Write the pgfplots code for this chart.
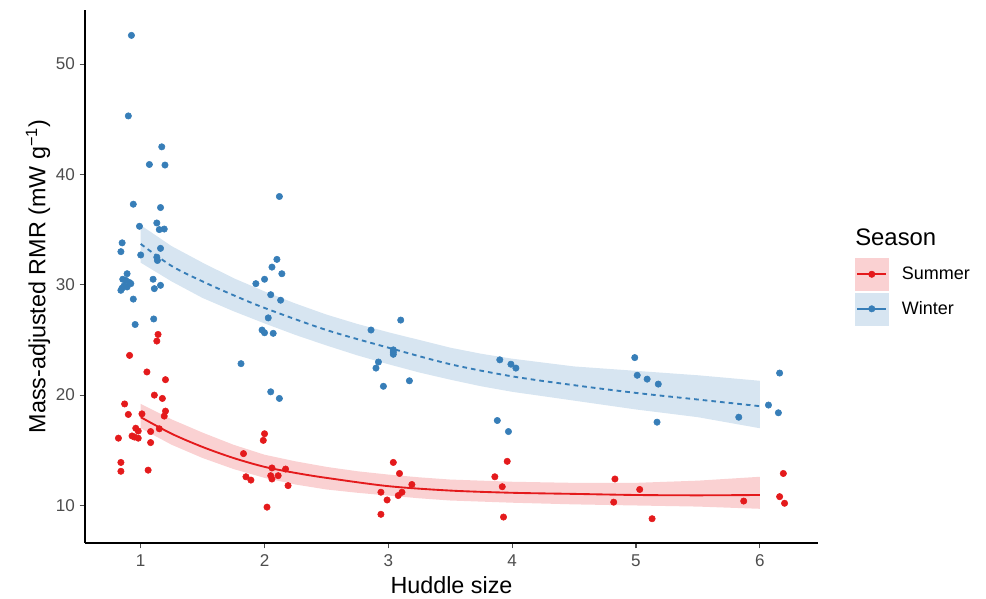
\documentclass[border=0pt]{standalone}
\usepackage{fontspec}
\setmainfont{Liberation Sans}
\usepackage{pgfplots}
\pgfplotsset{compat=1.18}
\definecolor{cred}{HTML}{E41A1C}
\definecolor{cblue}{HTML}{377EB8}
\definecolor{fred}{HTML}{FAD1D2}
\definecolor{fblue}{HTML}{D7E5F1}
\definecolor{tickgray}{HTML}{4D4D4D}
\begin{document}
\begin{tikzpicture}
\begin{axis}[
  scale only axis, width=549.75pt, height=399.75pt,
  xmin=0.55, xmax=6.47, ymin=6.6, ymax=54.9,
  axis x line*=bottom, axis y line*=left,
  axis line style={line width=0.9pt, black},
  xtick={1,2,3,4,5,6}, ytick={10,20,30,40,50},
  tick style={line width=0.8pt, color=tickgray}, tick align=outside, major tick length=4pt,
  tick label style={font=\fontsize{12.8}{14}\selectfont, text=tickgray},
  xticklabel style={yshift=-1pt},
  /pgf/number format/assume math mode=true,
  xlabel={Huddle size}, ylabel={Mass-adjusted RMR (mW g\textsuperscript{−1})},
  label style={font=\fontsize{17.5}{20}\selectfont},
  xlabel style={at={(axis description cs:0.5,-0.0788)}, anchor=center},
  ylabel style={at={(axis description cs:-0.0641,0.5)}, anchor=center},
  legend style={at={(axis description cs:1.0505,0.5347)}, anchor=north west, draw=none, fill=none,
    inner sep=0pt, outer sep=0pt, row sep=1.5pt, font=\fontsize{13.5}{15}\selectfont,
    cells={anchor=west}, /tikz/every odd column/.append style={column sep=8pt}},
]
% ribbons
\addplot[fill=fblue, draw=none, forget plot] coordinates {
(1.0,35.4)(1.25,33.5)(1.5,32.0)(1.75,30.6)(2.0,29.4)(2.25,28.3)(2.5,27.3)(2.75,26.45)(3.0,25.7)(3.25,25.0)(3.5,24.3)(3.75,23.75)(4.0,23.3)(4.5,22.6)(5.0,22.2)(5.5,21.8)(6.0,21.3)
(6.0,17.0)(5.5,18.0)(5.0,18.7)(4.5,19.5)(4.0,20.3)(3.75,20.8)(3.5,21.4)(3.25,22.05)(3.0,22.8)(2.75,23.6)(2.5,24.5)(2.25,25.45)(2.0,26.5)(1.75,27.6)(1.5,28.8)(1.25,30.3)(1.0,32.0)} -- cycle;
\addplot[fill=fred, draw=none, forget plot] coordinates {
(1.0,19.2)(1.25,17.8)(1.5,16.6)(1.75,15.5)(2.0,14.6)(2.25,14.0)(2.5,13.5)(2.75,13.1)(3.0,12.8)(3.25,12.55)(3.5,12.35)(4.0,12.15)(4.5,12.05)(5.0,12.05)(5.5,12.25)(6.0,12.6)
(6.0,9.7)(5.5,9.9)(5.0,10.0)(4.5,10.1)(4.0,10.25)(3.5,10.45)(3.25,10.65)(3.0,10.9)(2.75,11.15)(2.5,11.45)(2.25,11.9)(2.0,12.5)(1.75,13.3)(1.5,14.3)(1.25,15.5)(1.0,17.0)} -- cycle;
% fit lines
\addplot[cblue, line width=1.4pt, dash pattern=on 3.5pt off 3pt, smooth, forget plot] coordinates {
(1.0,33.7)(1.25,31.7)(1.5,30.3)(1.75,29.05)(2.0,27.9)(2.5,25.9)(3.0,24.3)(3.5,22.8)(4.0,21.7)(4.5,20.9)(5.0,20.2)(5.5,19.6)(6.0,19.0)};
\addplot[cred, line width=1.4pt, smooth, forget plot] coordinates {
(1.0,18.0)(1.25,16.5)(1.5,15.3)(1.75,14.3)(2.0,13.5)(2.25,12.95)(2.5,12.5)(3.0,11.75)(3.5,11.35)(4.0,11.15)(4.5,11.05)(5.0,10.95)(5.5,10.92)(6.0,10.95)};
% points
\addplot[only marks, mark=*, mark size=2.4pt, color=cblue, forget plot] coordinates {
(0.925,52.6)(0.90,45.3)(1.17,42.5)(1.07,40.9)(1.196,40.85)(0.94,37.3)(1.16,37.0)(0.99,35.3)(1.13,35.6)(1.15,35.0)
(1.19,35.05)(0.85,33.8)(0.84,33.0)(1.16,33.3)(1.00,32.7)(1.13,32.5)(1.135,32.2)(0.89,31.0)(0.855,30.5)(0.88,30.4)
(0.91,30.2)(0.92,30.1)(0.865,29.9)(0.89,29.8)(0.84,29.5)(0.85,29.7)(1.10,30.5)(1.11,29.65)(1.16,29.95)(0.94,28.7)
(1.105,26.9)(0.955,26.4)(1.81,22.85)(2.05,20.3)(2.12,19.7)(2.12,38.0)(2.10,32.3)(2.06,31.6)(2.14,31.0)(2.00,30.5)
(1.93,30.1)(2.05,29.1)(2.13,28.6)(2.03,27.0)(1.98,25.9)(2.00,25.65)(2.07,25.6)(2.86,25.9)(3.10,26.8)(3.04,24.1)
(3.04,23.9)(3.04,23.7)(2.92,23.0)(2.90,22.45)(2.96,20.8)(3.17,21.3)(3.90,23.2)(3.99,22.8)(4.03,22.45)(3.88,17.7)
(3.97,16.7)(4.99,23.4)(5.01,21.8)(5.09,21.45)(5.18,21.0)(5.17,17.55)(5.83,18.0)(6.07,19.1)(6.16,22.0)(6.15,18.4)};
\addplot[only marks, mark=*, mark size=2.4pt, color=cred, forget plot] coordinates {
(1.14,25.5)(1.13,24.9)(0.91,23.6)(1.05,22.1)(1.20,21.4)(1.11,20.0)(1.175,19.7)(0.87,19.2)(0.90,18.25)(1.01,18.3)
(1.20,18.55)(1.19,18.1)(0.96,17.0)(0.98,16.75)(1.15,16.95)(1.08,16.7)(0.93,16.3)(0.95,16.2)(0.98,16.1)(0.82,16.1)
(1.08,15.7)(0.84,13.9)(0.84,13.1)(1.06,13.2)(2.00,16.5)(1.99,15.9)(1.83,14.7)(2.06,13.4)(2.17,13.3)(2.05,12.7)
(2.06,12.4)(2.11,12.7)(1.85,12.6)(1.89,12.3)(2.19,11.8)(2.02,9.85)(3.04,13.9)(3.09,12.9)(3.19,11.9)(2.94,11.2)
(3.11,11.2)(3.08,10.9)(2.99,10.5)(2.94,9.2)(3.96,14.0)(3.86,12.6)(3.92,11.7)(3.93,8.95)(4.83,12.4)(5.03,11.45)
(4.82,10.3)(5.13,8.8)(5.87,10.4)(6.19,12.9)(6.16,10.8)(6.20,10.2)};
% legend
\addlegendimage{legend image code/.code={\fill[fred] (0pt,-12pt) rectangle (24.75pt,12pt);
  \draw[cred, line width=1.4pt] (1.5pt,0pt) -- (23.25pt,0pt); \fill[cred] (12.375pt,0pt) circle (2.4pt);}}
\addlegendentry{Summer}
\addlegendimage{legend image code/.code={\fill[fblue] (0pt,-12pt) rectangle (24.75pt,12pt);
  \draw[cblue, line width=1.4pt] (1.5pt,0pt) -- (23.25pt,0pt); \fill[cblue] (12.375pt,0pt) circle (2.4pt);}}
\addlegendentry{Winter}
\coordinate (SW) at (rel axis cs:0,0);
\coordinate (NE) at (rel axis cs:1,1);
\coordinate (T) at (axis description cs:1.0505,0.574);
\end{axis}
\node[anchor=west, inner sep=0pt, font=\fontsize{17.9}{20}\selectfont] at (T) {Season};
\pgfresetboundingbox
\path ([xshift=-63.75pt,yshift=-42pt]SW) rectangle ([xshift=126pt,yshift=7.5pt]NE);
\end{tikzpicture}
\end{document}
